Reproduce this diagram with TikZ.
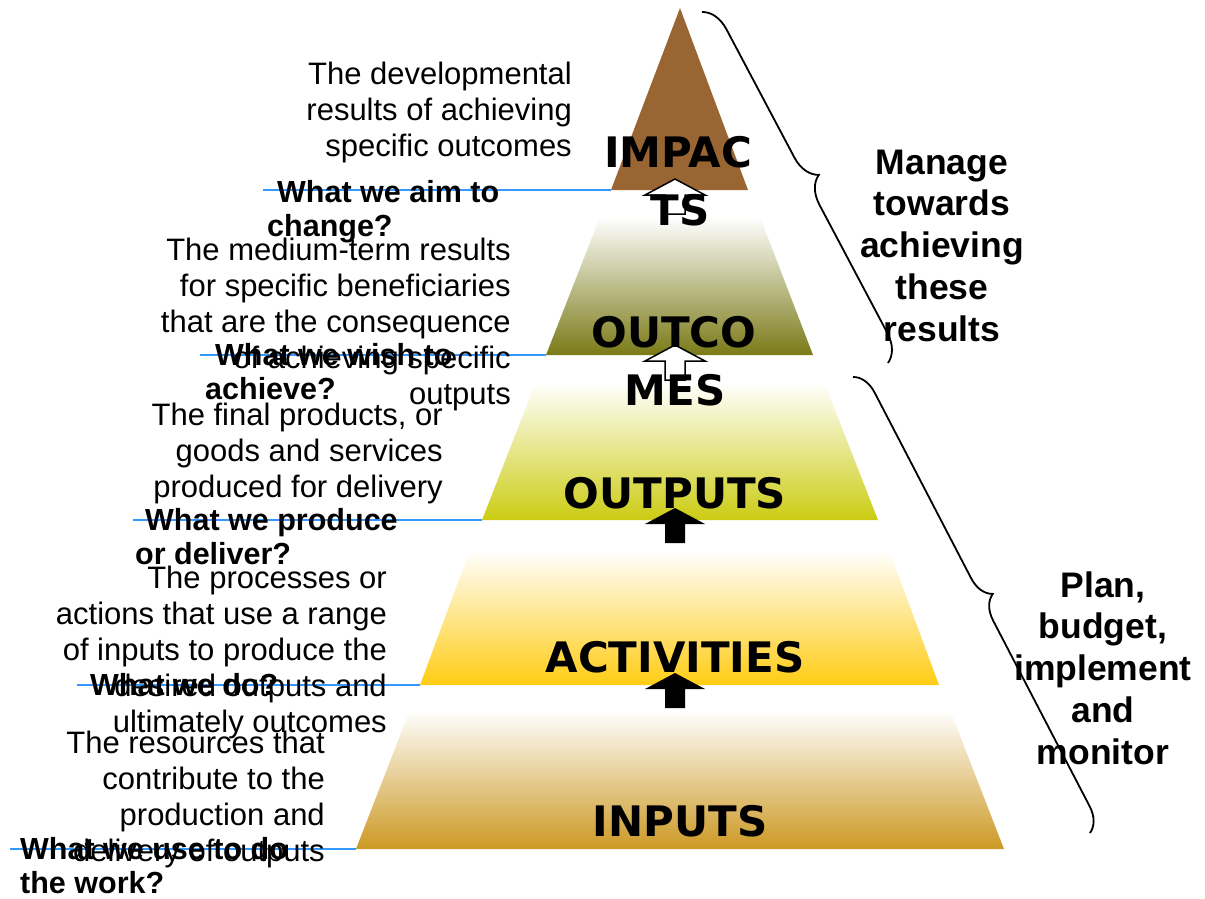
\documentclass[tikz,border=0pt]{standalone}
\usepackage{fontspec}
\setmainfont{Liberation Sans}
\newfontfamily\heavy{DejaVu Sans}
\usetikzlibrary{decorations.pathreplacing}
\definecolor{impactc}{RGB}{153,102,51}
\definecolor{outcomec}{RGB}{122,122,24}
\definecolor{outputc}{RGB}{204,204,20}
\definecolor{activc}{RGB}{255,204,20}
\definecolor{inputc}{RGB}{204,153,36}
\definecolor{blueline}{RGB}{51,153,255}
\begin{document}
\begin{tikzpicture}[x=1pt,y=-1pt,
  desc/.style={font=\fontsize{31}{35.8}\selectfont, align=right, anchor=base east, inner sep=0pt},
  quest/.style={font=\bfseries\fontsize{30.5}{34}\selectfont, align=left, anchor=base west, inner sep=0pt},
  side/.style={font=\bfseries\fontsize{35.5}{41.7}\selectfont, align=center, anchor=base, inner sep=0pt},
  lvl/.style={font=\heavy\bfseries\fontsize{42}{49}\selectfont, anchor=base, inner sep=0pt},
  blueln/.style={draw=blueline, line width=2.3pt},
  bracestyle/.style={draw=black, line width=1.8pt, decorate, decoration={brace, amplitude=#1}},
  uparr/.pic={\path[pic actions] (0,0) -- (30,16) -- (10,16) -- (10,35) -- (-10,35) -- (-10,16) -- (-30,16) -- cycle;}
]
\useasboundingbox (0,0) rectangle (1205,899);

% pyramid corners
\coordinate (apex) at (680,8);
\coordinate (impL) at (611,190);   \coordinate (impR) at (748,190);
\coordinate (outcTL) at (600,217); \coordinate (outcTR) at (760,217);
\coordinate (outcL) at (546,355);  \coordinate (outcR) at (813,355);
\coordinate (outpTL) at (536,382); \coordinate (outpTR) at (824,382);
\coordinate (outpL) at (482,520);  \coordinate (outpR) at (878,520);
\coordinate (actTL) at (470,550);  \coordinate (actTR) at (889,550);
\coordinate (actL) at (420,685);   \coordinate (actR) at (939,685);
\coordinate (inTL) at (410,710);   \coordinate (inTR) at (950,710);
\coordinate (inL) at (356,849);    \coordinate (inR) at (1004,849);

% pyramid bands
\fill[impactc] (apex) -- (impR) -- (impL) -- cycle;
\shade[top color=white, middle color=outcomec!28, bottom color=outcomec] (outcTL) -- (outcTR) -- (outcR) -- (outcL) -- cycle;
\shade[top color=white, middle color=outputc!30, bottom color=outputc] (outpTL) -- (outpTR) -- (outpR) -- (outpL) -- cycle;
\shade[top color=white, middle color=activc!30, bottom color=activc] (actTL) -- (actTR) -- (actR) -- (actL) -- cycle;
\shade[top color=white, middle color=inputc!22, bottom color=inputc] (inTL) -- (inTR) -- (inR) -- (inL) -- cycle;

% blue lines
\coordinate (l1) at (263,190);
\coordinate (l2) at (200,355);
\coordinate (l3) at (133,520);
\coordinate (l4) at (77,685);
\coordinate (l5) at (10,849);
\draw[blueln] (l1) -- (impL);
\draw[blueln] (l2) -- (outcL);
\draw[blueln] (l3) -- (outpL);
\draw[blueln] (l4) -- (actL);
\draw[blueln] (l5) -- (inL);

% arrows
\pic[draw=black, fill=white, line width=1.5pt] (arrA) at (675,179) {uparr};
\pic[draw=black, fill=white, line width=1.5pt] (arrB) at (675,345) {uparr};
\pic[fill=black] (arrC) at (675,508) {uparr};
\pic[fill=black] (arrD) at (675,673) {uparr};

% level labels
\node[lvl] (impact1) at (678,167) {IMPAC};
\node[lvl] (impact2) at (680,225) {TS};
\node[lvl] (outc1) at (674,347) {OUTCO};
\node[lvl] (outc2) at (675,405) {MES};
\node[lvl] (outp) at (675,508) {OUTPUTS};
\node[lvl] (act) at (675,672) {ACTIVITIES};
\node[lvl] (inp) at (680,836) {INPUTS};

% descriptions (anchor = baseline of last line)
\node[desc] (dImp) at (572,156) {The developmental\\results of achieving\\specific outcomes};
\node[desc] (dOutc) at (511,404) {The medium-term results\\for specific beneficiaries\\that are the consequence\\of achieving specific\\outputs};
\node[desc] (dOutp) at (443,497) {The final products, or\\goods and services\\produced for delivery};
\node[desc] (dAct) at (387,732) {The processes or\\actions that use a range\\of inputs to produce the\\desired outputs and\\ultimately outcomes};
\node[desc] (dInp) at (325,861) {The resources that\\contribute to the\\production and\\delivery of outputs};

% questions
\node[quest] (qImp) at (267,236) {\hspace*{10pt}What we aim to\\change?};
\node[quest] (qOutc) at (205,399) {\hspace*{10pt}What we wish to\\achieve?};
\node[quest] (qOutp) at (135,564) {\hspace*{10pt}What we produce\\or deliver?};
\node[quest] (qAct) at (90,695) {What we do?};
\node[quest] (qInp) at (20,893) {What we use to do\\the work?};

% braces
\coordinate (b1s) at (702,12);
\coordinate (b1e) at (888,363);
\coordinate (b2s) at (853,377);
\coordinate (b2e) at (1090,833);
\draw[bracestyle=27pt] (b1s) -- (b1e);
\draw[bracestyle=24pt] (b2s) -- (b2e);

\node[side] (manage) at (942,341) {Manage\\towards\\achieving\\these\\results};
\node[side] (plan) at (1103,764) {Plan,\\budget,\\implement\\and\\monitor};
\end{tikzpicture}
\end{document}
